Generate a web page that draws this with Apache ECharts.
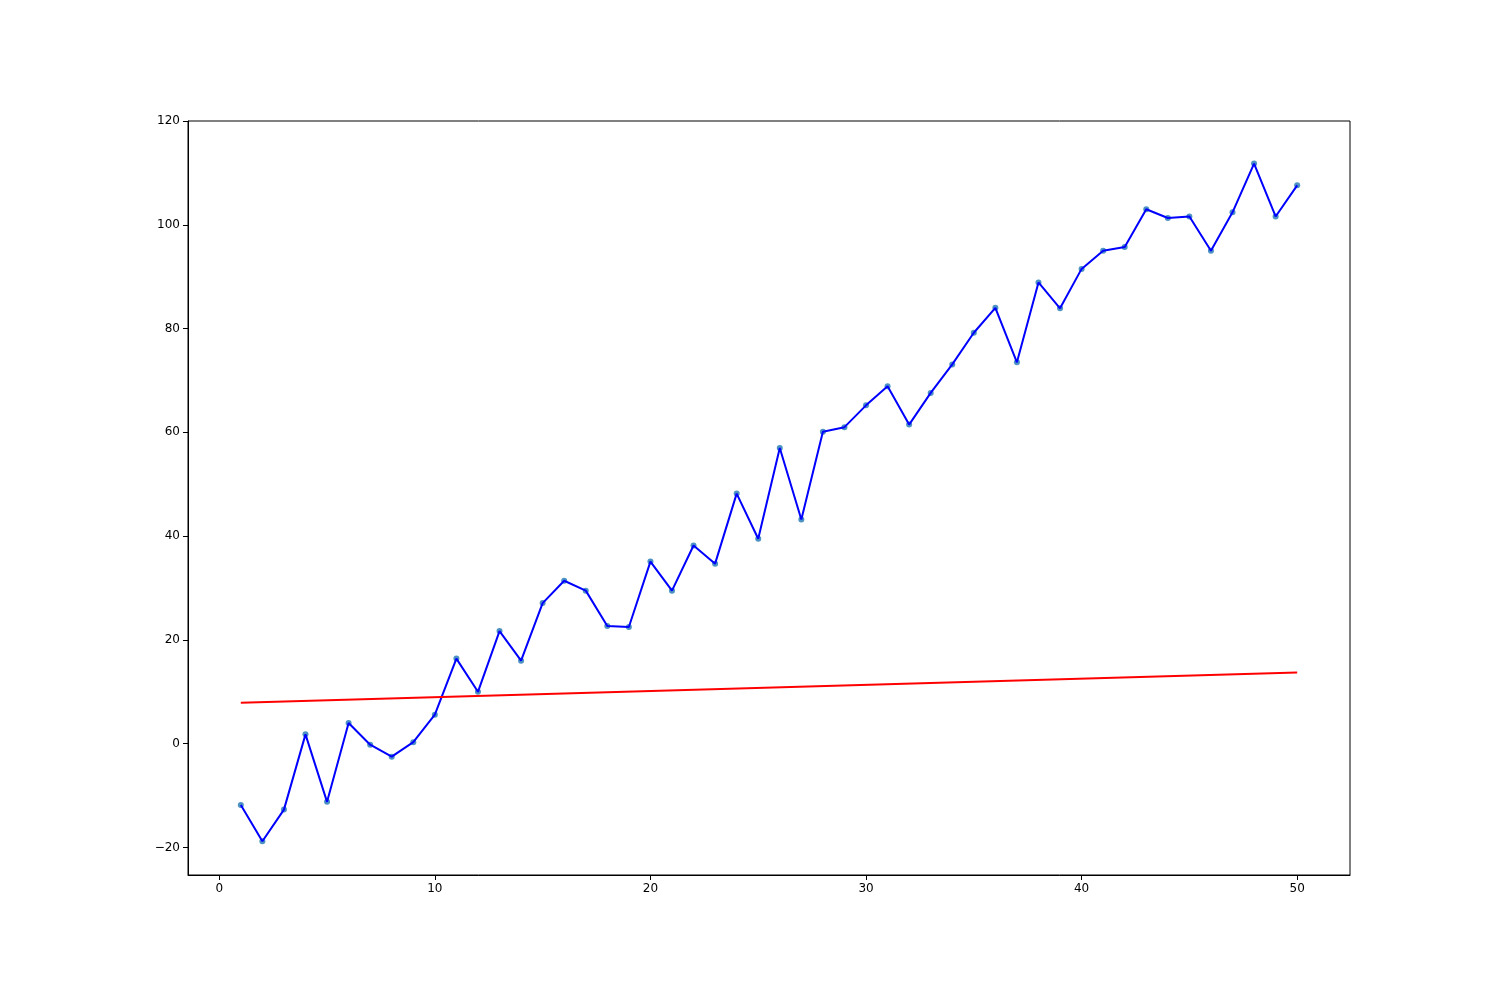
<!DOCTYPE html>
<html>
<head>
<meta charset="utf-8">
<script src="https://cdn.jsdelivr.net/npm/echarts@6/dist/echarts.min.js"></script>
<style>
  html, body { margin: 0; padding: 0; background: #fff; }
  #chart { width: 1500px; height: 1000px; }
</style>
</head>
<body>
<div id="chart"></div>
<script>
// x positions 1..50
var xValues = [];
for (var i = 1; i <= 50; i++) xValues.push(i);

// observed values (blue)
var yValues = [
  -11.8, -18.8, -12.7, 1.8, -11.2, 4.0, -0.2, -2.5, 0.3, 5.6,
  16.4, 10.0, 21.7, 16.0, 27.1, 31.4, 29.5, 22.7, 22.5, 35.1,
  29.5, 38.2, 34.7, 48.2, 39.5, 57.0, 43.2, 60.1, 61.0, 65.2,
  68.9, 61.5, 67.6, 73.1, 79.2, 84.0, 73.5, 88.9, 83.9, 91.5,
  95.0, 95.7, 103.0, 101.3, 101.6, 95.0, 102.4, 111.8, 101.6, 107.6
];

// red straight line endpoints
var fitX = [1, 50];
var fitY = [7.9, 13.7];

var xTicks = [0, 10, 20, 30, 40, 50];
var yTicks = [-20, 0, 20, 40, 60, 80, 100, 120];

var pts = xValues.map(function (x, k) { return [x, yValues[k]]; });
var fitPts = fitX.map(function (x, k) { return [x, fitY[k]]; });

var chart = echarts.init(document.getElementById("chart"));
var labelFont = {
  color: "#000",
  fontSize: 12,
  fontFamily: "DejaVu Sans, sans-serif",
};

var option = {
  animation: false,
  backgroundColor: "#fff",
  grid: {
    left: 188,
    right: 150,
    top: 121,
    bottom: 125,
    show: true,
    borderColor: "#000",
    borderWidth: 1,
    containLabel: false,
  },
  xAxis: {
    type: "value",
    min: -1.45,
    max: 52.45,
    splitLine: { show: false },
    axisLine: { show: true, onZero: false, lineStyle: { color: "#000", width: 1 } },
    axisTick: { show: true, length: 5, customValues: xTicks, lineStyle: { color: "#000" } },
    axisLabel: Object.assign({ customValues: xTicks, margin: 8 }, labelFont),
  },
  yAxis: {
    type: "value",
    min: -25.3,
    max: 120,
    splitLine: { show: false },
    axisLine: { show: true, onZero: false, lineStyle: { color: "#000", width: 1 } },
    axisTick: { show: true, length: 5, customValues: yTicks, lineStyle: { color: "#000" } },
    axisLabel: Object.assign({
      customValues: yTicks,
      margin: 8,
      formatter: function (v) { return String(v).replace("-", "\u2212"); },
    }, labelFont),
  },
  series: [
    {
      type: "scatter",
      data: pts,
      symbolSize: 6,
      itemStyle: { color: "#1f77b4" },
      z: 2,
    },
    {
      type: "line",
      data: pts,
      symbol: "none",
      lineStyle: { color: "#0000ff", width: 2 },
      z: 3,
    },
    {
      type: "line",
      data: fitPts,
      symbol: "none",
      lineStyle: { color: "#ff0000", width: 2 },
      z: 4,
    },
  ],
};
chart.setOption(option);
</script>
</body>
</html>
